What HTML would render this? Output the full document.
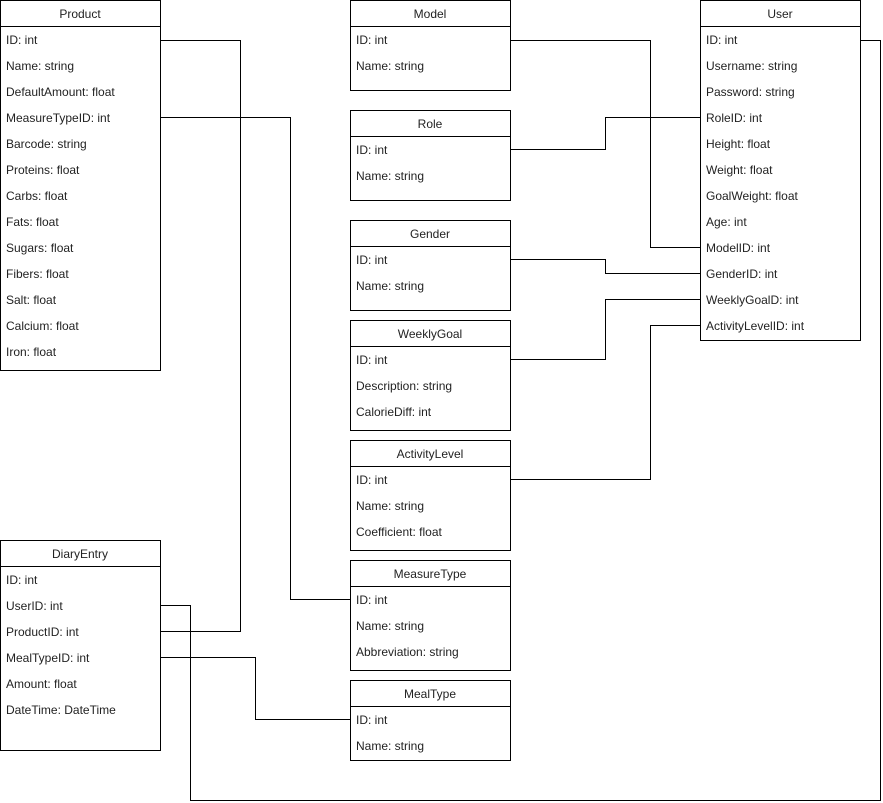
<!DOCTYPE html>
<html><head><style>
html,body{margin:0;padding:0;background:#fff;width:883px;height:803px;overflow:hidden}
svg text{font-family:"Liberation Sans",Arial,sans-serif;font-size:12px;fill:#222}
</style></head><body>
<svg width="883" height="803" xmlns="http://www.w3.org/2000/svg">
<g fill="none" stroke="#000" stroke-width="1">
<path d="M160.5 40.5H240.5V631.5H160.5"/>
<path d="M160.5 117.5H290.5V599.5H350.5"/>
<path d="M510.5 40.5H650.5V247.5H700.5"/>
<path d="M510.5 149.5H605.5V117.5H700.5"/>
<path d="M510.5 259.5H605.5V273.5H700.5"/>
<path d="M510.5 359.5H605.5V299.5H700.5"/>
<path d="M510.5 479.5H650.5V325.5H700.5"/>
<path d="M860.5 40.5H880.5V800.5H190.5V605.5H160.5"/>
<path d="M160.5 657.5H255.5V719.5H350.5"/>
</g>
<g fill="#fff" stroke="#000" stroke-width="1">
<rect x="0.5" y="0.5" width="160" height="370"/><path d="M0.5 26.5H160.5"/>
<rect x="350.5" y="0.5" width="160" height="90"/><path d="M350.5 26.5H510.5"/>
<rect x="350.5" y="110.5" width="160" height="90"/><path d="M350.5 136.5H510.5"/>
<rect x="350.5" y="220.5" width="160" height="90"/><path d="M350.5 246.5H510.5"/>
<rect x="350.5" y="320.5" width="160" height="110"/><path d="M350.5 346.5H510.5"/>
<rect x="350.5" y="440.5" width="160" height="110"/><path d="M350.5 466.5H510.5"/>
<rect x="350.5" y="560.5" width="160" height="110"/><path d="M350.5 586.5H510.5"/>
<rect x="350.5" y="680.5" width="160" height="80"/><path d="M350.5 706.5H510.5"/>
<rect x="700.5" y="0.5" width="160" height="340"/><path d="M700.5 26.5H860.5"/>
<rect x="0.5" y="540.5" width="160" height="210"/><path d="M0.5 566.5H160.5"/>
</g>
<g text-anchor="middle">
<text x="80" y="18">Product</text>
<text x="430" y="18">Model</text>
<text x="430" y="128">Role</text>
<text x="430" y="238">Gender</text>
<text x="430" y="338">WeeklyGoal</text>
<text x="430" y="458">ActivityLevel</text>
<text x="430" y="578">MeasureType</text>
<text x="430" y="698">MealType</text>
<text x="780" y="18">User</text>
<text x="80" y="558">DiaryEntry</text>
</g>
<g>
<text x="6" y="44">ID: int</text>
<text x="6" y="70">Name: string</text>
<text x="6" y="96">DefaultAmount: float</text>
<text x="6" y="122">MeasureTypeID: int</text>
<text x="6" y="148">Barcode: string</text>
<text x="6" y="174">Proteins: float</text>
<text x="6" y="200">Carbs: float</text>
<text x="6" y="226">Fats: float</text>
<text x="6" y="252">Sugars: float</text>
<text x="6" y="278">Fibers: float</text>
<text x="6" y="304">Salt: float</text>
<text x="6" y="330">Calcium: float</text>
<text x="6" y="356">Iron: float</text>

<text x="356" y="44">ID: int</text>
<text x="356" y="70">Name: string</text>
<text x="356" y="154">ID: int</text>
<text x="356" y="180">Name: string</text>
<text x="356" y="264">ID: int</text>
<text x="356" y="290">Name: string</text>
<text x="356" y="364">ID: int</text>
<text x="356" y="390">Description: string</text>
<text x="356" y="416">CalorieDiff: int</text>
<text x="356" y="484">ID: int</text>
<text x="356" y="510">Name: string</text>
<text x="356" y="536">Coefficient: float</text>
<text x="356" y="604">ID: int</text>
<text x="356" y="630">Name: string</text>
<text x="356" y="656">Abbreviation: string</text>
<text x="356" y="724">ID: int</text>
<text x="356" y="750">Name: string</text>

<text x="706" y="44">ID: int</text>
<text x="706" y="70">Username: string</text>
<text x="706" y="96">Password: string</text>
<text x="706" y="122">RoleID: int</text>
<text x="706" y="148">Height: float</text>
<text x="706" y="174">Weight: float</text>
<text x="706" y="200">GoalWeight: float</text>
<text x="706" y="226">Age: int</text>
<text x="706" y="252">ModelID: int</text>
<text x="706" y="278">GenderID: int</text>
<text x="706" y="304">WeeklyGoalD: int</text>
<text x="706" y="330">ActivityLevelID: int</text>

<text x="6" y="584">ID: int</text>
<text x="6" y="610">UserID: int</text>
<text x="6" y="636">ProductID: int</text>
<text x="6" y="662">MealTypeID: int</text>
<text x="6" y="688">Amount: float</text>
<text x="6" y="714">DateTime: DateTime</text>
</g>
</svg>
</body></html>
